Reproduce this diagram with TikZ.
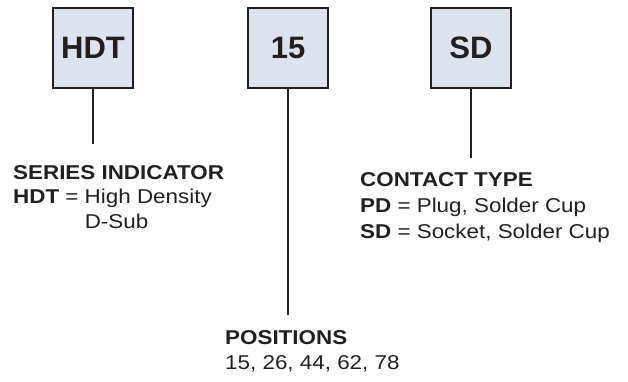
\documentclass[tikz,border=0pt]{standalone}
\usepackage{fontspec}
\setmainfont{Liberation Sans}
\newfontfamily\legendfont[FakeStretch=1.12]{Liberation Sans}
\definecolor{ink}{RGB}{35,31,32}
\definecolor{boxfill}{RGB}{220,227,238}
\usetikzlibrary{positioning}

\begin{document}
\begin{tikzpicture}[x=1pt, y=-1pt,
    code/.style={draw=ink, fill=boxfill, line width=1.3pt, inner sep=0pt,
      minimum width=80pt, minimum height=80pt, text=ink,
      font=\fontsize{31}{31}\selectfont\bfseries},
    lead/.style={draw=ink, line width=2pt},
    head/.style={anchor=base west, inner sep=0pt, text=ink,
      font=\legendfont\fontsize{20}{24}\selectfont\bfseries},
    desc/.style={anchor=base west, inner sep=0pt, text=ink,
      font=\legendfont\fontsize{20}{24}\selectfont},
  ]
    \useasboundingbox (0, 0) rectangle (628, 381);
    % part number boxes
    \node[code] (hdt) at (93, 48) {HDT};
    \node[code] (pos) at (288, 48) {15};
    \node[code] (sd) at (471, 48) {SD};
    % series indicator
    \node[head] (serieshead) at (13, 179) {SERIES INDICATOR};
    \node[desc] (series1) at (13, 203) {\textbf{HDT} = High Density};
    \node[desc] (series2) at (13, 228) {\phantom{\textbf{HDT} = }D-Sub};
    % contact type
    \node[head] (contacthead) at (360, 186) {CONTACT TYPE};
    \node[desc] (contact1) at (360, 212) {\textbf{PD} = Plug, Solder Cup};
    \node[desc] (contact2) at (360, 238) {\textbf{SD} = Socket, Solder Cup};
    % positions
    \node[head] (poshead) at (225, 344) {POSITIONS};
    \node[desc] (pos1) at (225, 369) {15, 26, 44, 62, 78};
    % leaders
    \coordinate (hdtend) at (93, 144);
    \coordinate (posend) at (288, 315);
    \coordinate (sdend) at (471, 158);
    \draw[lead] (hdt.south) -- (hdtend);
    \draw[lead] (pos.south) -- (posend);
    \draw[lead] (sd.south) -- (sdend);
  \end{tikzpicture}
\end{document}
